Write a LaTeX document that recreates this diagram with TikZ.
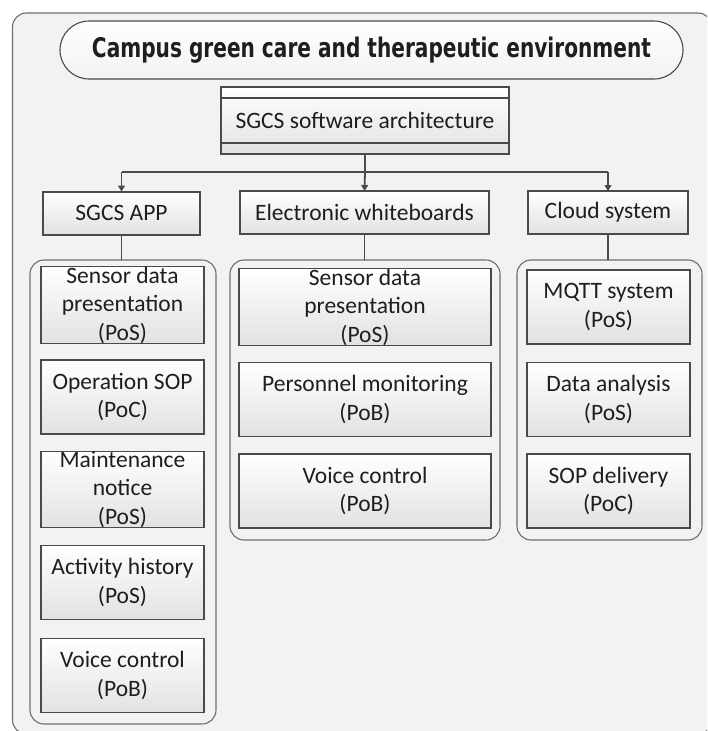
\documentclass[tikz,border=0pt]{standalone}
\usepackage{fontspec}
\setmainfont{Carlito}
\newfontfamily\titlefont{DejaVu Sans}
\usetikzlibrary{arrows.meta,shapes.misc}
\definecolor{panel}{HTML}{F2F2F2}
\definecolor{edge}{HTML}{4A4A4A}
\definecolor{frameline}{HTML}{6E6E6E}
\definecolor{ink}{HTML}{1E1E1E}
\definecolor{boxlow}{HTML}{E2E2E2}

\begin{document}
\begin{tikzpicture}[x=1pt,y=-1pt,
  every node/.style={outer sep=0pt, inner sep=0pt, text=ink},
  lbl/.style={font=\fontsize{23.5}{28.5}\selectfont, align=center},
  boxbase/.style={lbl, draw=edge, line width=1.1pt, top color=white, bottom color=boxlow},
  itembox/.style={boxbase, minimum height=74pt},
  headbox/.style={boxbase, minimum height=43pt},
  groupbox/.style={draw=frameline, line width=1.1pt, rounded corners=14pt, fill=panel},
  link/.style={draw=edge, line width=1.1pt},
  arr/.style={link, -{Triangle[width=7pt,length=6pt]}},
]
\useasboundingbox (0,0) rectangle (707,731);
\clip (0,0) rectangle (707,731);
\fill[white] (0,0) rectangle (707,731);

% outer panel
\draw[draw=frameline, line width=1.1pt, rounded corners=14pt, fill=panel]
  (12.5,13) rectangle (712,734);

% title banner
\node[rounded rectangle, draw=edge, line width=1.1pt, top color=white, bottom color=panel,
      minimum width=623pt, minimum height=58pt] (title) at (371.5,50)
  {\resizebox{559pt}{20.5pt}{\titlefont\bfseries Campus green care and therapeutic environment}};

% architecture box with header/footer bands
\node[boxbase, line width=1.4pt, minimum width=288pt, minimum height=67pt] (arch) at (365,120.5)
  {SGCS software architecture};
\draw[edge, line width=1.2pt] ([yshift=-11pt]arch.north west) -- ([yshift=-11pt]arch.north east);
\draw[edge, line width=1.2pt] ([yshift=11pt]arch.south west) -- ([yshift=11pt]arch.south east);

% second level
\node[headbox, line width=2pt, minimum width=157pt] (app) at (121.5,213) {SGCS APP};
\node[headbox, minimum width=249pt] (wb) at (364.5,212.5) {Electronic whiteboards};
\node[headbox, minimum width=160pt] (cloud) at (608,212.5) {Cloud system};

% distribution connectors
\coordinate (hub) at (365,172);
\draw[link] (hub -| app.north) -- (hub -| cloud.north);
\draw[link, line width=2.2pt] (arch.south) -- (hub);
\draw[arr, line width=1.8pt] (hub) -- (wb.north);
\draw[arr] (hub -| app.north) -- (app.north);
\draw[arr] (hub -| cloud.north) -- (cloud.north);

% group containers
\node[groupbox, minimum width=186pt, minimum height=464pt] (appg) at (123,492) {};
\node[groupbox, minimum width=270pt, minimum height=280pt] (wbg) at (365,400) {};
\node[groupbox, minimum width=185pt, minimum height=280pt] (cloudg) at (609.5,400) {};

\draw[link] (app.south) -- (app.south |- appg.north);
\draw[link] (wb.south) -- (wb.south |- wbg.north);
\draw[link] (cloud.south) -- (cloud.south |- cloudg.north);

% SGCS APP functions
\node[itembox, minimum width=163pt] (a1) at (122.5,305) {Sensor data\\presentation\\(PoS)};
\node[itembox, minimum width=163pt] (a2) at (122.5,397) {Operation SOP\\(PoC)};
\node[itembox, minimum width=163pt] (a3) at (122.5,489.5) {Maintenance\\notice\\(PoS)};
\node[itembox, minimum width=163pt] (a4) at (122.5,582.5) {Activity history\\(PoS)};
\node[itembox, minimum width=163pt] (a5) at (122.5,675.5) {Voice control\\(PoB)};

% whiteboard functions
\node[itembox, minimum width=252pt] (w1) at (365,307) {Sensor data\\presentation\\(PoS)};
\node[itembox, minimum width=252pt] (w2) at (365,399.5) {Personnel monitoring\\(PoB)};
\node[itembox, minimum width=252pt] (w3) at (365,491) {Voice control\\(PoB)};

% cloud functions
\node[itembox, minimum width=163pt] (c1) at (608.5,307) {MQTT system\\(PoS)};
\node[itembox, minimum width=163pt] (c2) at (608.5,399.5) {Data analysis\\(PoS)};
\node[itembox, minimum width=163pt] (c3) at (608.5,491) {SOP delivery\\(PoC)};
\end{tikzpicture}
\end{document}
